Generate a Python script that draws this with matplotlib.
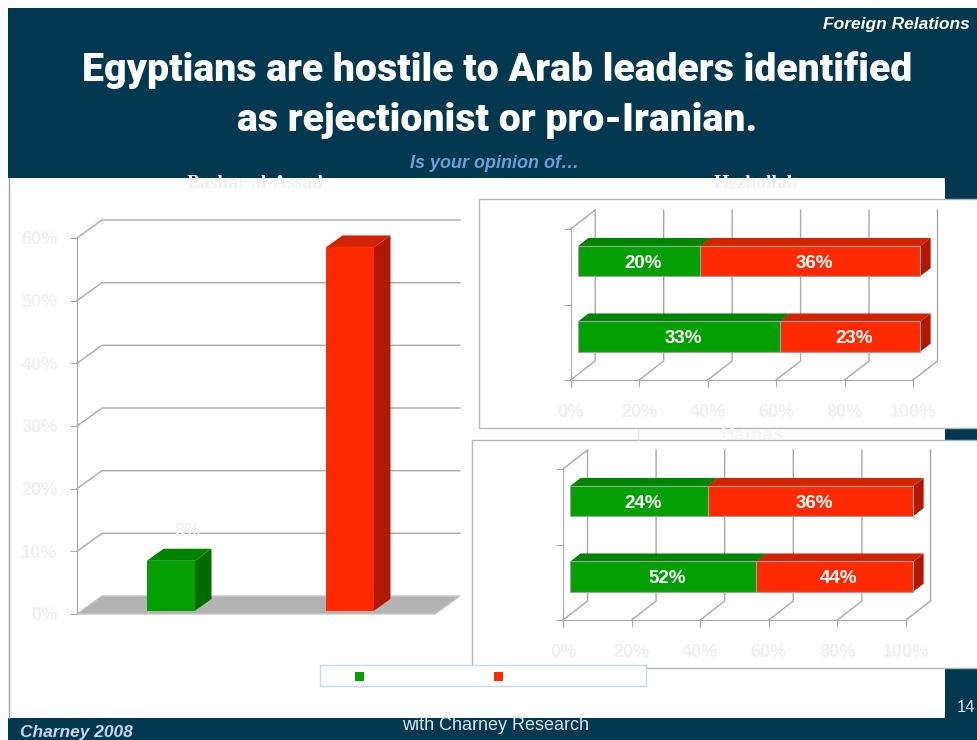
import matplotlib
matplotlib.use("Agg")
import matplotlib.pyplot as plt
from matplotlib.patches import Rectangle, Polygon
from matplotlib import font_manager

W, H = 977, 740

# survey results
assad_cats = ["Favorable", "Unfavorable"]
assad_values = [8, 58]
hezbollah_fav = [20, 33]      # rows listed top to bottom
hezbollah_unfav = [36, 23]
hamas_fav = [24, 52]
hamas_unfav = [36, 44]
left_ticks = [0, 10, 20, 30, 40, 50, 60]
right_ticks = [0, 20, 40, 60, 80, 100]
legend_labels = ["Favorable", "Unfavorable"]

NAVY = "#01384f"
GREEN = ("#02a002", "#008300", "#006c00")   # front, top, side
RED = ("#ff2a00", "#d22300", "#b01800")
GRID = "#a8a8a8"
GHOST = "#f0f0f0"
SANS = "Liberation Sans"

fig = plt.figure(figsize=(W / 100, H / 100), dpi=100)
fig.patch.set_facecolor("white")

bg = fig.add_axes([0, 0, 1, 1])
bg.set_xlim(0, W)
bg.set_ylim(H, 0)
bg.axis("off")

# slide background
bg.add_patch(Rectangle((8, 8), W, H, fc=NAVY, ec="none", zorder=0))
bg.add_patch(Rectangle((8, 178), 937, 540, fc="white", ec="none", zorder=1))
bg.plot([8.5, 8.5], [178, 718], color="#a0a0a0", lw=1, zorder=2)
bg.add_patch(Rectangle((479, 199), 520, 229, fc="white", ec="#b4b4b4", lw=1, zorder=2))
bg.add_patch(Rectangle((472, 440), 520, 228, fc="white", ec="#b4b4b4", lw=1, zorder=2))
bg.plot([638, 638], [429, 440], color="#cfe4ef", lw=1, zorder=2)


def px_axes(x0, y0, x1, y1):
    ax = fig.add_axes([x0 / W, 1 - y1 / H, (x1 - x0) / W, (y1 - y0) / H])
    ax.patch.set_visible(False)
    return ax


def depth_fn(ax, dxp, dyp):
    # z = 1 means full depth: dxp pixels right, dyp pixels up
    bb = ax.get_position()
    x0, x1 = ax.get_xlim()
    y0, y1 = ax.get_ylim()
    kx = dxp * (x1 - x0) / (bb.width * W)
    ky = dyp * (y1 - y0) / (bb.height * H)
    return lambda x, y, z: (x + kx * z, y + ky * z)


def faces(ax, P, x0, x1, y0, y1, z0, z1, colors):
    front, top, side = colors
    ax.add_patch(Polygon([P(x0, y1, z0), P(x1, y1, z0), P(x1, y1, z1), P(x0, y1, z1)],
                         closed=True, fc=top, ec="none", clip_on=False, zorder=3))
    ax.add_patch(Polygon([P(x1, y0, z0), P(x1, y0, z1), P(x1, y1, z1), P(x1, y1, z0)],
                         closed=True, fc=side, ec="none", clip_on=False, zorder=3))


def line(ax, pts, **kw):
    xs, ys = zip(*pts)
    ax.plot(xs, ys, color=GRID, lw=1, clip_on=False, zorder=1, **kw)


# ---- Bashar al-Assad: 3D columns ----
ax1 = px_axes(77, 238, 435, 614)
ax1.set_xlim(-0.5, 1.5)
ax1.set_ylim(0, 60)
P1 = depth_fn(ax1, 25, 18)
for s in ["top", "right", "bottom"]:
    ax1.spines[s].set_visible(False)
ax1.spines["left"].set_color(GRID)
ax1.set_xticks([])
ax1.set_yticks(left_ticks)
ax1.set_yticklabels([f"{v}%" for v in left_ticks])
ax1.tick_params(axis="y", length=5, color=GRID, labelcolor=GHOST, labelsize=13, pad=9)
for lab in ax1.get_yticklabels():
    lab.set_fontweight("bold")
    lab.set_family(SANS)

ax1.add_patch(Polygon([P1(-0.5, 0, 0), P1(1.5, 0, 0), P1(1.5, 0, 1), P1(-0.5, 0, 1)],
                      closed=True, fc="#b3b3b3", ec="#c6c6c6", lw=1, clip_on=False, zorder=1))
for v in left_ticks[1:]:
    line(ax1, [P1(-0.5, v, 0), P1(-0.5, v, 1), P1(1.5, v, 1)])

bw, z0, z1 = 0.268, 0.17, 0.84
for i, (cat, v) in enumerate(zip(assad_cats, assad_values)):
    cols = GREEN if i == 0 else RED
    bx, by = P1(i, 0, z0)
    ax1.bar(bx, v, bottom=by, width=bw, color=cols[0], zorder=4, clip_on=False)
    faces(ax1, P1, i - bw / 2, i + bw / 2, 0, v, z0, z1, cols)
    ax1.annotate(f"{v}%", xy=P1(i, v, z1), xytext=(0, 17), textcoords="offset pixels",
                 ha="center", va="center", color=GHOST, fontsize=13, fontweight="bold",
                 family=SANS, zorder=6)


# ---- Hezbollah / Hamas: 3D stacked bars ----
def stacked_panel(box, fav, unfav):
    ax = px_axes(*box)
    ax.set_xlim(0, 100)
    ax.set_ylim(-0.5, 1.5)
    P = depth_fn(ax, 24.5, 19)
    for s in ["top", "right"]:
        ax.spines[s].set_visible(False)
    ax.spines["left"].set_color(GRID)
    ax.spines["bottom"].set_color(GRID)
    ax.set_xticks(right_ticks)
    ax.set_xticklabels([f"{v}%" for v in right_ticks])
    ax.set_yticks([-0.5, 0.5, 1.5])
    ax.set_yticklabels([])
    ax.tick_params(length=5, color=GRID, labelcolor=GHOST, labelsize=13)
    ax.tick_params(axis="x", pad=12)
    for lab in ax.get_xticklabels():
        lab.set_fontweight("bold")
        lab.set_family(SANS)

    line(ax, [P(0, 1.5, 0), P(0, 1.5, 1)])
    for v in right_ticks:
        line(ax, [P(v, -0.5, 0), P(v, -0.5, 1), P(v, 1.5, 1)])

    h, zb0, zb1 = 0.4, 0.3, 0.72
    for row, (f, u) in enumerate(zip(fav, unfav)):
        yc = 1 - row
        total = f + u
        left = 0
        for val, cols in ((f, GREEN), (u, RED)):
            share = val / total * 100
            bx, by = P(left, yc, zb0)
            ax.barh(by, share, left=bx, height=h, color=cols[0], edgecolor="#a0a0a0",
                    lw=0.8, zorder=4, clip_on=False)
            faces(ax, P, left, left + share, yc - h / 2, yc + h / 2, zb0, zb1, cols)
            ax.annotate(f"{val}%", xy=P(left + share / 2, yc, zb0), xytext=(4, -2),
                        textcoords="offset pixels", ha="center", va="center",
                        color="white", fontsize=13.5, fontweight="bold", family=SANS, zorder=6)
            left += share
    return ax


stacked_panel((570.7, 229, 913, 380), hezbollah_fav, hezbollah_unfav)
stacked_panel((563, 469, 906, 620), hamas_fav, hamas_unfav)

# legend
bg.add_patch(Rectangle((320, 665), 326, 21, fc="white", ec="#c6d9ee", lw=1, zorder=3))
for x, c, lab in ((355, GREEN[0], legend_labels[0]), (494, RED[0], legend_labels[1])):
    bg.add_patch(Rectangle((x, 672), 9, 9, fc=c, ec="none", zorder=4))
    bg.text(x + 15, 676.5, lab, ha="left", va="center", color="white", fontsize=11,
            family=SANS, zorder=4)

# chart titles (light text)
bg.text(255, 183, "Bashar al-Assad", ha="center", va="center", color=GHOST, fontsize=14,
        fontweight="bold", family="Liberation Serif", zorder=5)
bg.text(756, 183, "Hezbollah", ha="center", va="center", color=GHOST, fontsize=14,
        fontweight="bold", family="Liberation Serif", zorder=5)
bg.text(753, 435, "Hamas", ha="center", va="center", color="#f6f6f6", fontsize=14,
        fontweight="bold", family=SANS, zorder=5)

# header
bg.text(970, 24, "Foreign Relations", ha="right", va="center", color="white", fontsize=12.5,
        fontweight="bold", style="italic", family=SANS, zorder=5)
bg.text(495, 163, "Is your opinion of\u2026", ha="center", va="center", color="#6f9fd6",
        fontsize=13, fontweight="bold", style="italic", family=SANS, zorder=5)

names = {f.name for f in font_manager.fontManager.ttflist}
if "Liberation Sans Narrow" in names:
    head = dict(family="Liberation Sans Narrow", fontweight="bold")
elif "Roboto" in names:
    head = dict(family="Roboto", fontweight="black")
else:
    head = dict(family="DejaVu Sans", fontweight="bold")
t1 = bg.text(497, 81, "Egyptians are hostile to Arab leaders identified", ha="center",
             va="baseline", color="white", fontsize=30, zorder=5, **head)
t2 = bg.text(497, 131, "as rejectionist or pro-Iranian.", ha="center",
             va="baseline", color="white", fontsize=30, zorder=5, **head)
fig.canvas.draw()
w1 = t1.get_window_extent(fig.canvas.get_renderer()).width
size = 30 * 830 / w1
t1.set_fontsize(size)
t2.set_fontsize(size)

# footer
bg.text(20, 733, "Charney 2008", ha="left", va="center", color="#c6d6ee", fontsize=12.5,
        fontweight="bold", style="italic", family=SANS, zorder=5)
bg.text(496, 726, "with Charney Research", ha="center", va="center", color="#dde5ef",
        fontsize=13, family=SANS, zorder=5)
bg.text(966, 708, "14", ha="center", va="center", color="#dde5ef", fontsize=12,
        family=SANS, zorder=5)

fig.savefig("out.png", dpi=100)
